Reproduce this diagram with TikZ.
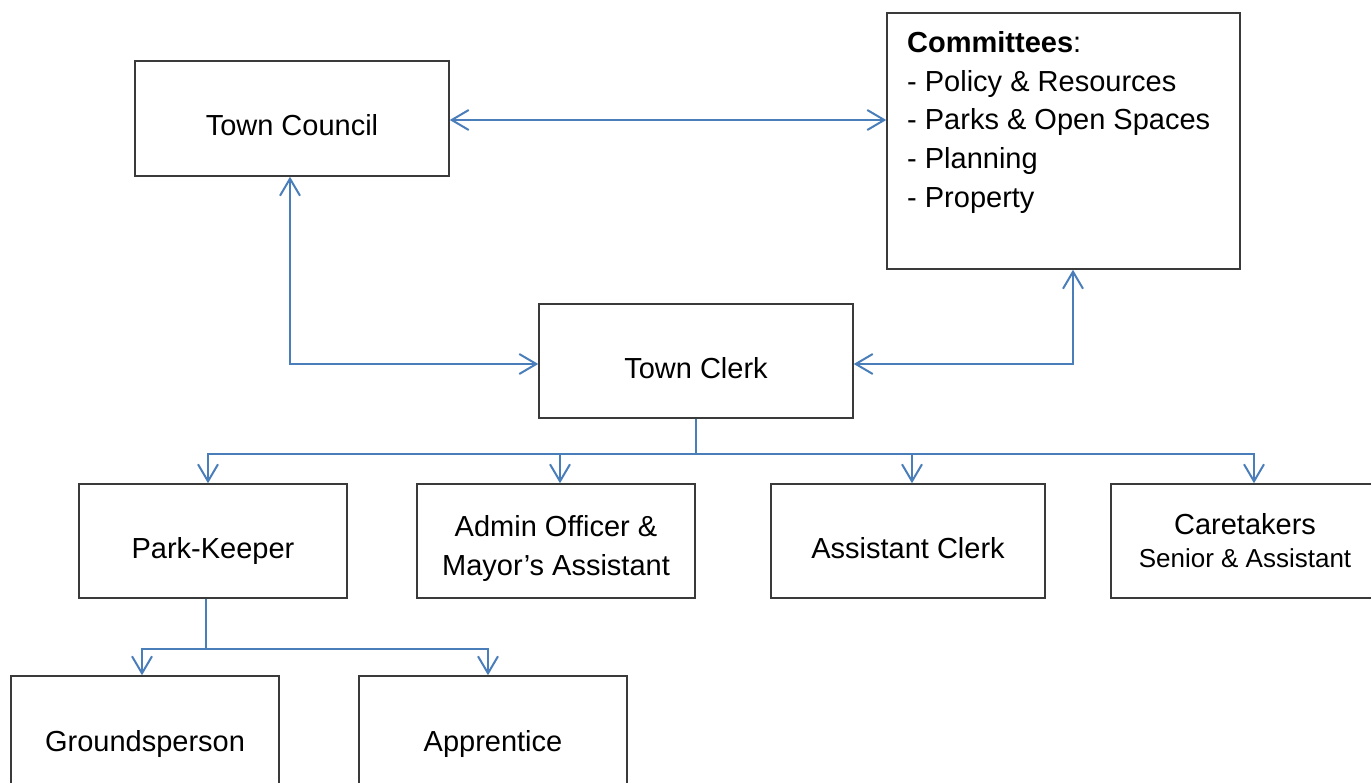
\documentclass[tikz,border=0pt]{standalone}
\usepackage{fontspec}
\setmainfont{Liberation Sans}
\usetikzlibrary{arrows.meta}
\definecolor{conncol}{HTML}{4A7EBB}
\definecolor{boxcol}{HTML}{3A3A3A}
\tikzset{
  box/.style={draw=boxcol, line width=1.5pt, rectangle, inner sep=0pt, align=center,
    font=\fontsize{29}{39}\selectfont},
  onetext/.style={text height=35pt, text depth=0pt},
  conn/.style={draw=conncol, line width=2pt, -{Straight Barb[length=17pt,width=20pt]}},
  connboth/.style={draw=conncol, line width=2pt, {Straight Barb[length=17pt,width=20pt]}-{Straight Barb[length=17pt,width=20pt]}},
  plain/.style={draw=conncol, line width=2pt},
}
\begin{document}
\begin{tikzpicture}[x=1pt,y=-1pt]
\useasboundingbox (0,0) rectangle (1371,783);
\node[box,onetext,minimum width=314pt,minimum height=115pt] (tc) at (292,118.5) {Town Council};
\node[box,minimum width=353pt,minimum height=256pt] (com) at (1063.5,141) {};
\node[anchor=north west,inner sep=0pt,align=left,font=\fontsize{29}{38.8}\selectfont] (comtext) at (907,31)
  {\textbf{Committees}:\\- Policy \& Resources\\- Parks \& Open Spaces\\- Planning\\- Property};
\node[box,onetext,minimum width=314pt,minimum height=114pt] (clerk) at (696,361) {Town Clerk};
\node[box,onetext,minimum width=268pt,minimum height=114pt] (pk) at (213,541) {Park-Keeper};
\node[box,minimum width=278pt,minimum height=114pt] (admin) at (556,541) {\raisebox{-8pt}[\height][\depth]{\parbox{270pt}{\centering Admin Officer \&\\Mayor’s Assistant}}};
\node[box,onetext,minimum width=274pt,minimum height=114pt] (ac) at (908,541) {Assistant Clerk};
\node[box,minimum width=268pt,minimum height=114pt] (care) at (1245,541) {Caretakers\\[-6pt]{\fontsize{26}{30}\selectfont Senior \& Assistant}};
\node[box,onetext,minimum width=268pt,minimum height=116pt] (gp) at (145,734) {Groundsperson};
\node[box,onetext,minimum width=268pt,minimum height=116pt] (ap) at (493,734) {Apprentice};

% connectors
\draw[connboth] ([yshift=-1.5pt]tc.east) -- ([yshift=-1.5pt]tc.east -| com.west);
\draw[connboth] ([xshift=-2pt]tc.south) |- ([yshift=-3pt]clerk.west);
\draw[connboth] ([xshift=9.5pt]com.south) |- ([yshift=-3pt]clerk.east);

\coordinate (cj) at ([yshift=-35pt]clerk.south);
\draw[plain] (clerk.south) -- (cj);
\draw[conn] (cj) -| ([xshift=-5pt]pk.north);
\draw[conn] (cj) -| ([xshift=4pt]admin.north);
\draw[conn] (cj) -| ([xshift=4pt]ac.north);
\draw[conn] (cj) -| ([xshift=9pt]care.north);

\coordinate (pj) at ([yshift=-50pt,xshift=-7pt]pk.south);
\draw[plain] ([xshift=-7pt]pk.south) -- (pj);
\draw[conn] (pj) -| ([xshift=-3pt]gp.north);
\draw[conn] (pj) -| ([xshift=-5pt]ap.north);
\end{tikzpicture}
\end{document}
